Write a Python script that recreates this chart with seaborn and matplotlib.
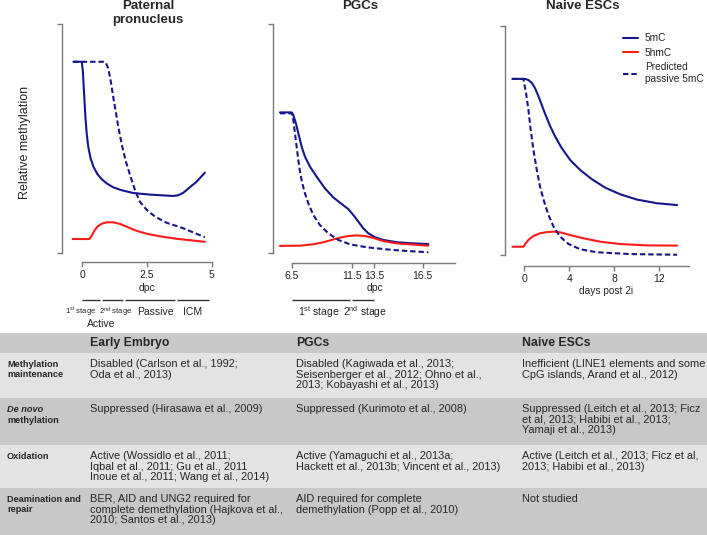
import pandas as pd
import seaborn as sns
import matplotlib.pyplot as plt
import matplotlib.transforms as mtransforms
from matplotlib.patches import Rectangle

# ---- curves (x in dpc / stage position / days, y = relative methylation) ----
pat_5mc_x = [-0.33, -0.01, 0.03, 0.08, 0.13, 0.18, 0.24, 0.33, 0.44, 0.59, 0.76, 0.95, 1.2, 1.53,
             1.97, 2.62, 3.51, 3.7, 3.9, 4.15, 4.41, 4.73]
pat_5mc_y = [0.835, 0.835, 0.799, 0.697, 0.595, 0.523, 0.464, 0.414, 0.377, 0.345, 0.322, 0.304, 0.287,
             0.274, 0.262, 0.255, 0.249, 0.252, 0.263, 0.287, 0.311, 0.351]
pat_5hmc_x = [-0.36, 0.28, 0.37, 0.47, 0.59, 0.76, 0.95, 1.2, 1.46, 1.78, 2.1, 2.49, 3.0, 3.64, 4.73]
pat_5hmc_y = [0.061, 0.061, 0.074, 0.096, 0.115, 0.128, 0.134, 0.134, 0.127, 0.112, 0.097, 0.084, 0.073,
              0.062, 0.049]
pat_pred_x = [-0.33, 0.82, 0.92, 1.01, 1.1, 1.2, 1.31, 1.42, 1.55, 1.69, 1.87, 2.04, 2.23, 2.49, 2.81,
              3.26, 3.9, 4.73]
pat_pred_y = [0.835, 0.835, 0.831, 0.806, 0.755, 0.683, 0.61, 0.537, 0.464, 0.399, 0.333, 0.275, 0.224,
              0.188, 0.159, 0.132, 0.108, 0.069]

pgc_5mc_x = [-1.0, -0.03, 0.11, 0.33, 0.53, 0.81, 1.08, 1.5, 2.06, 2.75, 3.44, 4.14, 4.69, 5.11, 5.53,
             5.94, 6.36, 6.92, 7.61, 8.72, 10.11, 11.36]
pgc_5mc_y = [0.614, 0.614, 0.603, 0.566, 0.523, 0.464, 0.421, 0.377, 0.333, 0.282, 0.243, 0.214, 0.192,
             0.166, 0.137, 0.108, 0.086, 0.069, 0.057, 0.047, 0.042, 0.039]
pgc_5hmc_x = [-1.0, 0.67, 1.78, 2.61, 3.31, 4.0, 4.69, 5.39, 6.08, 6.78, 7.61, 8.72, 11.36]
pgc_5hmc_y = [0.031, 0.032, 0.038, 0.047, 0.057, 0.067, 0.074, 0.077, 0.074, 0.066, 0.052, 0.042, 0.032]
pgc_pred_x = [-1.0, -0.03, 0.11, 0.25, 0.39, 0.53, 0.67, 0.86, 1.08, 1.36, 1.78, 2.33, 3.03, 3.86, 4.83,
              6.22, 8.44, 11.36]
pgc_pred_y = [0.61, 0.61, 0.581, 0.523, 0.464, 0.406, 0.355, 0.304, 0.261, 0.217, 0.166, 0.122, 0.086,
              0.057, 0.038, 0.025, 0.013, 0.003]

esc_5mc_x = [-1.04, 0.09, 0.39, 0.68, 0.98, 1.27, 1.57, 1.87, 2.31, 2.76, 3.35, 4.09, 4.98, 6.01, 7.2,
             8.53, 10.01, 11.8, 13.57]
esc_5mc_y = [0.769, 0.769, 0.764, 0.752, 0.728, 0.694, 0.655, 0.616, 0.563, 0.517, 0.466, 0.415, 0.371,
             0.331, 0.294, 0.265, 0.242, 0.226, 0.218]
esc_5hmc_x = [-1.04, -0.06, 0.15, 0.39, 0.83, 1.42, 2.02, 2.61, 3.2, 4.09, 5.27, 6.76, 8.53, 10.9, 13.57]
esc_5hmc_y = [0.036, 0.036, 0.051, 0.066, 0.083, 0.095, 0.1, 0.102, 0.099, 0.087, 0.073, 0.058, 0.048,
              0.042, 0.041]
esc_pred_x = [-1.04, -0.06, 0.18, 0.39, 0.59, 0.83, 1.13, 1.42, 1.78, 2.16, 2.61, 3.2, 3.94, 4.98, 6.46,
              9.42, 13.57]
esc_pred_y = [0.769, 0.769, 0.706, 0.633, 0.546, 0.459, 0.371, 0.298, 0.233, 0.175, 0.124, 0.08, 0.048,
              0.025, 0.012, 0.004, 0.001]

series_names = ["5mC", "5hmC", "Predicted\npassive 5mC"]
titles = ["Paternal\npronucleus", "PGCs", "Naive ESCs"]

pat_ticks = [0, 2.5, 5]
pat_ticklabels = ["0", "2.5", "5"]
pgc_ticks = [0, 5, 6.83, 10.9]
pgc_ticklabels = ["6.5", "11.5", "13.5", "16.5"]
esc_ticks = [0, 4, 8, 12]
esc_ticklabels = ["0", "4", "8", "12"]

pat_stages = [(0, 0.69), (0.77, 1.58), (1.66, 3.58), (3.66, 4.88)]
pgc_stages = [(0, 4.83), (5.0, 6.83)]

# ---- table ----
headers = ["Early Embryo", "PGCs", "Naive ESCs"]
row_labels = ["Methylation\nmaintenance", "De novo\nmethylation", "Oxidation", "Deamination and\nrepair"]
early_embryo = ["Disabled (Carlson et al., 1992;\nOda et al., 2013)",
                "Suppressed (Hirasawa et al., 2009)",
                "Active (Wossidlo et al., 2011;\nIqbal et al., 2011; Gu et al., 2011\nInoue et al., 2011; Wang et al., 2014)",
                "BER, AID and UNG2 required for\ncomplete demethylation (Hajkova et al.,\n2010; Santos et al., 2013)"]
pgcs = ["Disabled (Kagiwada et al., 2013;\nSeisenberger et al., 2012; Ohno et al.,\n2013; Kobayashi et al., 2013)",
        "Suppressed (Kurimoto et al., 2008)",
        "Active (Yamaguchi et al., 2013a;\nHackett et al., 2013b; Vincent et al., 2013)",
        "AID required for complete\ndemethylation (Popp et al., 2010)"]
naive_escs = ["Inefficient (LINE1 elements and some\nCpG islands, Arand et al., 2012)",
              "Suppressed (Leitch et al., 2013; Ficz\net al, 2013; Habibi et al., 2013;\nYamaji et al., 2013)",
              "Active (Leitch et al., 2013; Ficz et al,\n2013; Habibi et al., 2013)",
              "Not studied"]

sns.set_style("ticks")
plt.rcParams['font.family'] = ['Liberation Sans', 'DejaVu Sans']
plt.rcParams['mathtext.default'] = 'regular'

NAVY = '#16168c'
RED = '#ff1a1a'
GREY = '#7a7a7a'
palette = dict(zip(series_names, [NAVY, RED, NAVY]))
dashes = dict(zip(series_names, ['', '', (2.6, 1.4)]))

fig = plt.figure(figsize=(7.07, 5.35), dpi=100)

# table in pixel coordinates
tab = fig.add_axes([0, 0, 1, 1], zorder=0)
tab.set_xlim(0, 707)
tab.set_ylim(535, 0)
tab.axis('off')
row_edges = [333, 353, 398, 445, 488, 535]
row_cols = ['#c8c8c8', '#e3e3e3', '#c8c8c8', '#e3e3e3', '#c8c8c8']
for i, c in enumerate(row_cols):
    tab.add_patch(Rectangle((0, row_edges[i]), 707, row_edges[i + 1] - row_edges[i], color=c, lw=0))
col_x = [90, 296, 522]
for x, h in zip(col_x, headers):
    tab.text(x, 343, h, fontsize=8.8, fontweight='bold', va='center', ha='left')
for r, lab in enumerate(row_labels):
    top = row_edges[r + 1] + 7
    if lab.startswith("De novo"):
        first, rest = lab.split("\n")
        tab.text(7, top, first, fontsize=6.6, fontweight='bold', style='italic', va='top')
        tab.text(7, top + 11, rest, fontsize=6.6, fontweight='bold', va='top')
    else:
        tab.text(7, top, lab, fontsize=6.6, fontweight='bold', va='top', linespacing=1.2)
    for x, col in zip(col_x, [early_embryo, pgcs, naive_escs]):
        tab.text(x, top - 1, col[r], fontsize=7.9, va='top', linespacing=1.08)

panels = [
    ([pat_5mc_x, pat_5hmc_x, pat_pred_x], [pat_5mc_y, pat_5hmc_y, pat_pred_y]),
    ([pgc_5mc_x, pgc_5hmc_x, pgc_pred_x], [pgc_5mc_y, pgc_5hmc_y, pgc_pred_y]),
    ([esc_5mc_x, esc_5hmc_x, esc_pred_x], [esc_5mc_y, esc_5hmc_y, esc_pred_y]),
]
rects = [[62 / 707, 282 / 535, 153 / 707, 229 / 535],
         [273 / 707, 282 / 535, 187 / 707, 229 / 535],
         [505 / 707, 280 / 535, 195 / 707, 229 / 535]]
xlims = [(-0.77, 5.12), (-1.58, 14.0), (-1.69, 15.6)]
ticks = [(pat_ticks, pat_ticklabels), (pgc_ticks, pgc_ticklabels), (esc_ticks, esc_ticklabels)]
bounds = [(0, 5), (0, 13.6), (0, 14.6)]
offsets = [6.5, 7.2, 8.0]

axes = []
for i, (xs, ys) in enumerate(panels):
    df = pd.concat([pd.DataFrame({'x': x, 'y': y, 'series': n})
                    for x, y, n in zip(xs, ys, series_names)], ignore_index=True)
    ax = fig.add_axes(rects[i], zorder=2)
    ax.patch.set_alpha(0)
    sns.lineplot(data=df, x='x', y='y', hue='series', style='series', palette=palette,
                 dashes=dashes, estimator=None, sort=False, lw=1.5, ax=ax, legend=(i == 2))
    ax.set_xlim(*xlims[i])
    ax.set_ylim(0, 1)
    ax.set_xlabel('')
    ax.set_ylabel('')
    sns.despine(ax=ax)
    ax.set_yticks([0, 1])
    ax.set_yticklabels([])
    ax.set_xticks(ticks[i][0])
    ax.set_xticklabels(ticks[i][1])
    ax.spines['bottom'].set_position(('outward', offsets[i]))
    ax.spines['bottom'].set_bounds(*bounds[i])
    for s in ['bottom', 'left']:
        ax.spines[s].set_color(GREY)
        ax.spines[s].set_linewidth(1.0)
    ax.tick_params(axis='x', length=3.5, width=1.0, color=GREY, pad=2, labelsize=7.5, labelcolor='#222222')
    ax.tick_params(axis='y', length=3.6, width=1.0, color=GREY)
    for line in ax.lines:
        line.set_clip_on(False)
        line.set_solid_capstyle('round')
    axes.append(ax)

ax1, ax2, ax3 = axes
tr1 = mtransforms.blended_transform_factory(ax1.transData, ax1.transAxes)
tr2 = mtransforms.blended_transform_factory(ax2.transData, ax2.transAxes)
tr3 = mtransforms.blended_transform_factory(ax3.transData, ax3.transAxes)

ax1.text(2.5, -0.153, "dpc", transform=tr1, ha='center', va='center', fontsize=7.5)
ax2.text(6.9, -0.153, "dpc", transform=tr2, ha='center', va='center', fontsize=7.5)
ax3.text(7.3, -0.157, "days post 2i", transform=tr3, ha='center', va='center', fontsize=7.3)

for a, b in pat_stages:
    ax1.plot([a, b], [-0.205, -0.205], transform=tr1, color='#333333', lw=1.0, clip_on=False,
             solid_capstyle='butt')
for a, b in pgc_stages:
    ax2.plot([a, b], [-0.205, -0.205], transform=tr2, color='#333333', lw=1.0, clip_on=False,
             solid_capstyle='butt')

ax1.text(-0.04, -0.257, "1$^{st}$ stage", transform=tr1, ha='center', va='center', fontsize=5.6)
ax1.text(1.31, -0.257, "2$^{nd}$ stage", transform=tr1, ha='center', va='center', fontsize=5.6)
ax1.text(2.81, -0.257, "Passive", transform=tr1, ha='center', va='center', fontsize=7.5)
ax1.text(4.27, -0.257, "ICM", transform=tr1, ha='center', va='center', fontsize=7.5)
ax1.text(0.73, -0.31, "Active", transform=tr1, ha='center', va='center', fontsize=7.5)
ax2.text(2.2, -0.26, "1$^{st}$ stage", transform=tr2, ha='center', va='center', fontsize=7.5)
ax2.text(6.1, -0.26, "2$^{nd}$ stage", transform=tr2, ha='center', va='center', fontsize=7.5)

sns.move_legend(ax3, 'upper left', bbox_to_anchor=(0.58, 0.99), frameon=False, title=None,
                fontsize=7.3, handlelength=1.45, handletextpad=0.7, labelspacing=0.45, borderpad=0)

fig.text(148 / 707, 1 - 13 / 535, titles[0], ha='center', va='center', fontsize=9.5,
         fontweight='bold', linespacing=1.15)
fig.text(360 / 707, 1 - 6 / 535, titles[1], ha='center', va='center', fontsize=9.5, fontweight='bold')
fig.text(583 / 707, 1 - 6 / 535, titles[2], ha='center', va='center', fontsize=9.5, fontweight='bold')
fig.text(25 / 707, 1 - 142 / 535, "Relative methylation", rotation=90, ha='center', va='center', fontsize=9)

fig.savefig("out.png", dpi=100)
